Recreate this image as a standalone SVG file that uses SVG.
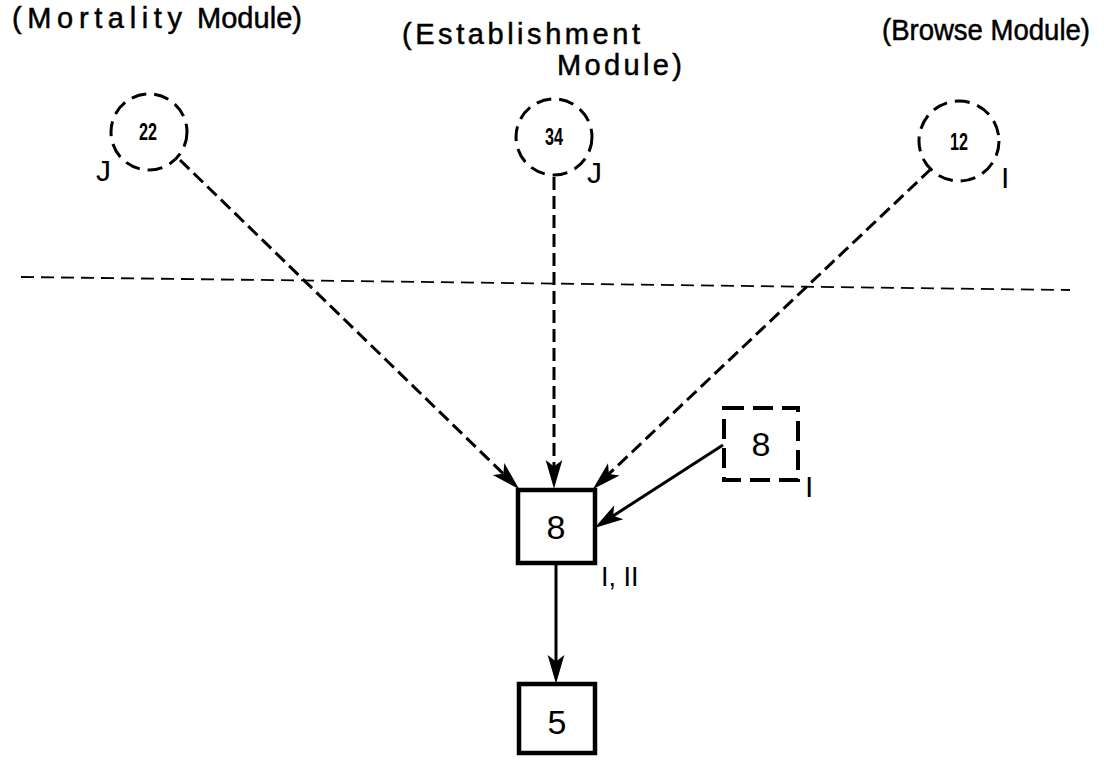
<svg xmlns="http://www.w3.org/2000/svg" width="1104" height="763" viewBox="0 0 1104 763">
  <defs>
    <style>
      .title { font-family: "Liberation Sans", Arial, sans-serif; font-size: 29px; fill: #000; stroke: #000; stroke-width: 0.5; }
      .tag { font-family: "Liberation Sans", Arial, sans-serif; font-size: 30px; fill: #000; }
      .num { font-family: "Liberation Sans", Arial, sans-serif; font-size: 34px; fill: #000; text-anchor: middle; }
      .cnum { font-family: "Liberation Sans", Arial, sans-serif; font-size: 23px; font-weight: bold; fill: #000; }
      .ext { fill: none; stroke: #000; stroke-width: 3; stroke-dasharray: 15 8; }
      .box { fill: none; stroke: #000; stroke-width: 4.5; }
      .dbox { fill: none; stroke: #000; stroke-width: 4; stroke-dasharray: 20 9; }
      .flow { fill: none; stroke: #000; stroke-width: 3; }
      .dflow { fill: none; stroke: #000; stroke-width: 3; stroke-dasharray: 13 6; }
      .divider { fill: none; stroke: #000; stroke-width: 1.8; stroke-dasharray: 13 7; }
    </style>
    <marker id="head" markerUnits="userSpaceOnUse" markerWidth="40" markerHeight="20" viewBox="-22 -9 32 18" refX="0" refY="0" orient="auto" overflow="visible">
      <path d="M7,0 L-19,-7.5 L-13,0 L-19,7.5 Z" fill="#000" stroke="none"/>
    </marker>
  </defs>

  <!-- module headings -->
  <g id="headings">
    <text class="title" x="12" y="28" textLength="170" lengthAdjust="spacing">(Mortality</text>
    <text class="title" x="197" y="28" textLength="105" lengthAdjust="spacing">Module)</text>
    <text class="title" x="402" y="44" textLength="238" lengthAdjust="spacing">(Establishment</text>
    <text class="title" x="557" y="75" textLength="125" lengthAdjust="spacing">Module)</text>
    <text class="title" x="882" y="40" textLength="208" lengthAdjust="spacingAndGlyphs">(Browse Module)</text>
  </g>

  <!-- boundary between modules and this submodel -->
  <line class="divider" x1="21" y1="277" x2="1070" y2="290"/>

  <!-- external inputs -->
  <g id="node-22">
    <circle class="ext" cx="149" cy="132" r="38"/>
    <text class="cnum" x="139" y="140" textLength="18" lengthAdjust="spacingAndGlyphs">22</text>
    <text class="tag" x="96" y="181">J</text>
  </g>
  <g id="node-34">
    <circle class="ext" cx="554" cy="137" r="38"/>
    <text class="cnum" x="545" y="145" textLength="18" lengthAdjust="spacingAndGlyphs">34</text>
    <text class="tag" x="587" y="183">J</text>
  </g>
  <g id="node-12">
    <circle class="ext" cx="959" cy="141" r="40"/>
    <text class="cnum" x="950" y="150" textLength="18" lengthAdjust="spacingAndGlyphs">12</text>
    <text class="tag" x="1001" y="188">I</text>
  </g>

  <!-- local variables -->
  <g id="node-8-aux">
    <rect class="dbox" x="724" y="408" width="74" height="72"/>
    <text class="num" x="761" y="456">8</text>
    <text class="tag" x="805" y="497">I</text>
  </g>
  <g id="node-8">
    <rect class="box" x="518" y="490" width="77" height="73"/>
    <text class="num" x="556" y="539">8</text>
    <text class="tag" x="601" y="586" style="font-size:27px">I, II</text>
  </g>
  <g id="node-5">
    <rect class="box" x="519" y="684" width="76" height="69"/>
    <text class="num" x="557" y="734">5</text>
  </g>

  <!-- connectors -->
  <g id="connectors">
    <line class="dflow" x1="180" y1="160" x2="513.7" y2="483.8" marker-end="url(#head)"/>
    <line class="dflow" x1="554" y1="177" x2="554" y2="481" marker-end="url(#head)"/>
    <line class="dflow" x1="931" y1="169" x2="598.4" y2="483.9" marker-end="url(#head)"/>
    <line class="flow" x1="723" y1="445" x2="601" y2="523.7" marker-end="url(#head)"/>
    <line class="flow" x1="556" y1="563" x2="556" y2="676" marker-end="url(#head)"/>
  </g>
</svg>
